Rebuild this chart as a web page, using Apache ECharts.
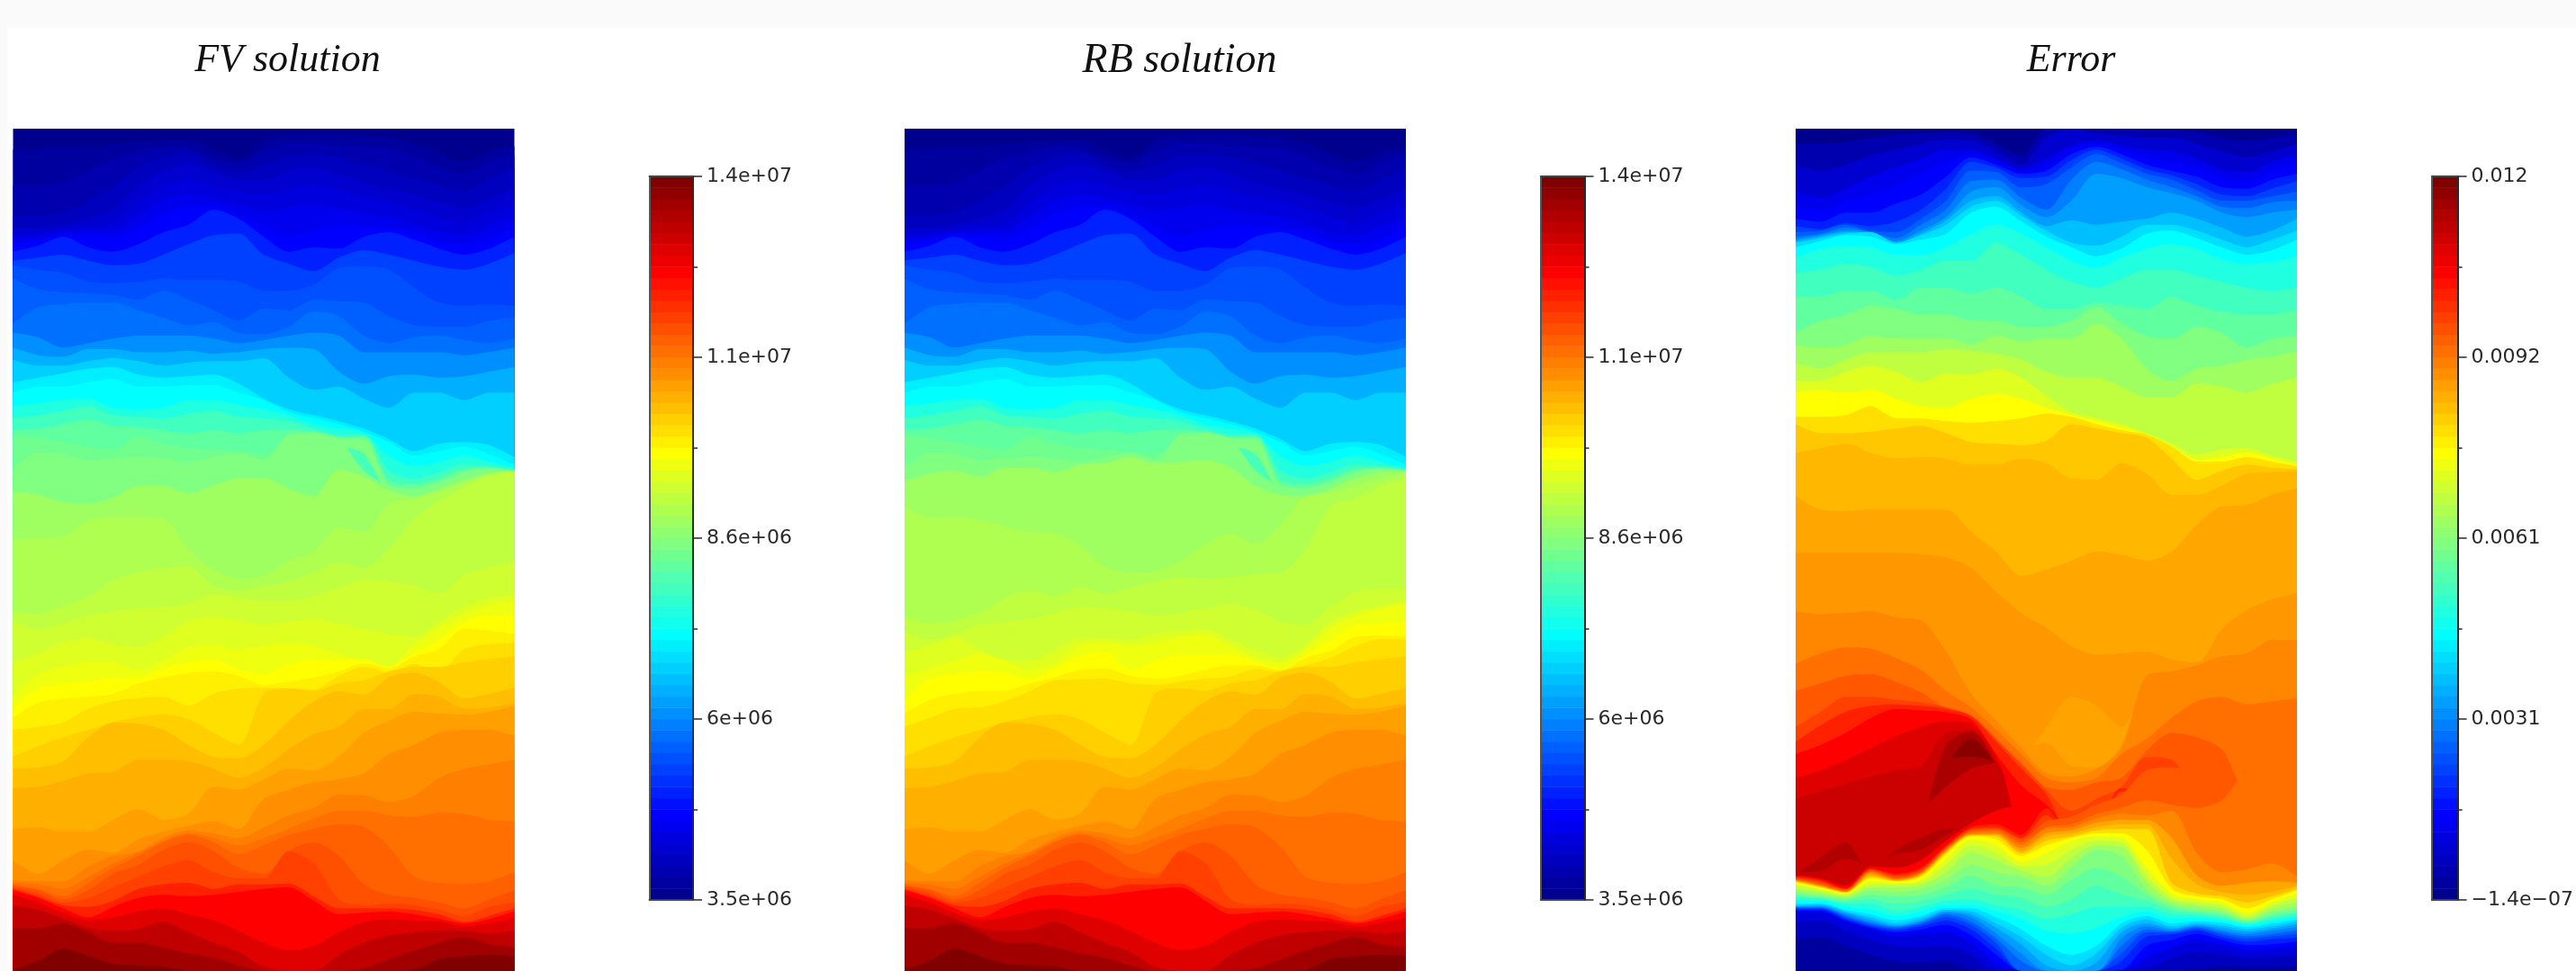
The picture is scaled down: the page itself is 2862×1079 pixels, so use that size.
<!DOCTYPE html>
<html><head><meta charset="utf-8">
<style>html,body{margin:0;padding:0;background:#fafafa;width:2862px;height:1079px;overflow:hidden}
#paper{position:absolute;left:8px;top:31px;right:0;bottom:0;background:#fff}
#chart{position:absolute;left:0;top:0;width:2862px;height:1079px}</style>
<script src="https://cdn.jsdelivr.net/npm/echarts@6/dist/echarts.min.js"></script>
</head><body><div id="paper"></div><div id="chart"></div>
<script>
// contour readings: x sample positions (% of width), depth units 0..2808 from field top
const xSamples=[0,5,10,15,20,25,30,35,40,45,50,55,60,65,70,75,80,85,90,95,100];
const midDepth=1404, fullDepth=2808;
const panelTitles=['FV solution','RB solution','Error'];
const fvTickLabels=['3.5e+06','6e+06','8.6e+06','1.1e+07','1.4e+07'];
const rbTickLabels=['3.5e+06','6e+06','8.6e+06','1.1e+07','1.4e+07'];
const errTickLabels=['\u22121.4e\u221207','0.0031','0.0061','0.0092','0.012'];
const jetStops=[[0,'#00008f'],[7,'#0000ff'],[23,'#00ffff'],[39,'#ffff00'],[55,'#ff0000'],[63,'#800000']];

const fvUpperLevels=[0,1,2,3,4,5,6,7,9,11,12,13,14,16,18,20,22,23,25,27,29,30,31,27.5,31,33,34,35];
const fvUpperDepths=[
[0,0,0,0,0,0,0,0,0,0,0,0,0,0,0,0,0,0,0,0,0],
[70,65,60,60,50,45,40,40,70,100,40,25,20,20,25,30,50,80,110,75,60],
[190,190,180,140,100,80,60,65,100,115,75,50,50,55,60,65,90,130,150,110,90],
[290,290,280,240,190,130,95,80,120,145,120,90,85,95,120,140,165,190,205,170,130],
[330,330,320,300,270,190,140,120,145,170,170,140,130,150,180,200,220,245,265,235,195],
[350,345,335,325,315,250,190,170,190,210,220,200,190,205,230,245,270,295,315,280,245],
[365,358,345,340,340,290,240,220,235,255,275,265,255,270,285,295,320,345,355,325,295],
[385,372,352,357,362,330,285,260,260,290,325,355,335,320,325,330,345,375,385,365,330],
[410,390,360,395,410,385,345,320,270,300,360,410,395,400,360,345,370,400,420,400,360],
[440,430,420,440,455,450,420,385,355,350,420,450,475,430,405,420,440,460,470,450,415],
[455,470,480,510,515,510,500,505,505,510,540,540,520,465,460,470,530,580,590,585,590],
[500,535,545,550,555,570,540,570,605,640,600,605,570,575,580,625,655,660,660,640,630],
[650,595,585,580,580,605,630,655,645,680,685,660,610,625,690,715,695,690,705,715,700],
[680,695,730,715,700,690,690,690,700,715,705,690,680,690,745,745,745,745,755,745,730],
[730,755,760,735,735,745,745,740,750,745,735,730,735,810,850,825,820,830,825,810,795],
[770,790,790,775,765,775,790,780,775,775,765,830,870,860,900,930,880,880,905,880,880],
[845,830,815,800,795,820,830,825,820,850,900,935,955,975,1000,1035,1075,1050,1045,1055,1095],
[880,860,860,845,835,860,860,855,855,880,905,945,965,985,1010,1045,1090,1075,1060,1085,1120],
[925,915,905,900,930,935,930,905,905,920,935,955,985,1000,1015,1090,1125,1110,1090,1110,1130],
[965,955,940,925,955,960,965,950,940,960,965,975,1000,1020,1020,1140,1165,1145,1120,1125,1135],
[1005,1000,985,970,990,995,1005,1015,1005,1015,1005,1005,1010,1030,1025,1170,1185,1165,1135,1130,1140],
[1020,1030,1045,1060,1070,1025,1050,1065,1070,1075,1085,1040,1010,1030,1030,1185,1195,1175,1140,1130,1140],
[1135,1080,1085,1105,1100,1095,1100,1110,1095,1080,1105,1020,1015,1035,1038,1190,1200,1180,1145,1135,1140],
[1155,1100,1105,1125,1120,1115,1120,1130,1115,1100,1125,1040,1035,1055,1085,1210,1220,1200,1165,1155,1160],
[1135,1080,1085,1105,1100,1095,1100,1110,1095,1080,1105,1020,1015,1035,1140,1190,1200,1180,1145,1135,1140],
[1210,1220,1245,1250,1230,1190,1190,1215,1190,1165,1165,1200,1225,1135,1160,1205,1225,1200,1170,1150,1140],
[1370,1365,1360,1305,1295,1295,1300,1404,1470,1500,1490,1440,1410,1330,1345,1250,1235,1210,1180,1150,1140],
[1609,1618,1590,1560,1505,1480,1464,1460,1525,1540,1525,1510,1480,1445,1465,1400,1300,1240,1195,1155,1142]];

const fvLowerLevels=[36,37,38,39,40,41,42,43,44,45,46,47,48,49,50,51,53,55,57,59,61,63];
const fvLowerDepths=[
[235,265,245,220,205,195,190,180,150,160,170,170,155,125,100,105,120,145,85,60,40],
[375,345,310,295,315,325,290,235,225,235,248,240,230,245,265,280,290,240,190,160,150],
[490,415,390,375,375,400,370,325,320,330,320,310,320,345,370,385,315,260,215,185,170],
[525,465,445,440,425,425,395,375,365,400,415,380,365,370,365,392,345,300,240,220,220],
[560,510,495,490,480,445,425,410,405,420,450,440,425,405,378,395,355,330,262,270,280],
[600,590,575,530,505,495,490,520,480,462,460,462,465,420,390,410,380,405,330,315,310],
[690,655,625,600,575,558,548,565,610,650,480,462,470,445,435,405,390,390,375,365,355],
[730,725,705,625,575,580,600,650,690,695,650,570,505,472,483,425,410,440,495,480,460],
[795,790,770,745,740,700,700,705,730,760,725,665,615,590,530,530,480,490,530,525,510],
[930,925,940,940,900,865,900,880,790,800,765,730,735,690,610,570,540,545,550,540,520],
[1035,1080,1035,1000,1010,965,940,920,905,930,830,800,775,765,745,680,650,610,600,600,620],
[1100,1105,1105,1055,1020,1005,960,935,945,960,925,885,860,815,818,840,820,760,730,715,700],
[1110,1115,1130,1090,1045,1010,970,945,960,985,960,930,895,870,870,885,890,875,880,900,905],
[1115,1130,1155,1110,1060,1020,975,950,975,1015,985,950,930,915,925,990,1090,1110,1115,1105,1075],
[1120,1135,1165,1135,1080,1050,1000,975,1005,1060,1080,1005,975,1020,1115,1150,1160,1175,1195,1165,1135],
[1125,1145,1175,1160,1125,1090,1055,1035,1075,1095,1095,1005,1045,1165,1185,1178,1185,1200,1220,1190,1175],
[1130,1155,1185,1190,1170,1130,1115,1110,1130,1115,1115,1112,1155,1195,1195,1195,1200,1215,1240,1220,1195],
[1135,1160,1195,1225,1190,1160,1150,1155,1150,1140,1130,1125,1170,1215,1210,1205,1215,1230,1245,1230,1205],
[1150,1175,1210,1235,1225,1205,1195,1215,1235,1270,1310,1335,1320,1275,1240,1232,1235,1240,1255,1245,1225],
[1185,1200,1230,1260,1270,1265,1240,1275,1310,1340,1390,1404,1404,1350,1310,1285,1275,1270,1270,1280,1270],
[1260,1260,1245,1275,1310,1310,1325,1345,1360,1385,1404,1404,1404,1404,1395,1365,1335,1310,1290,1315,1325],
[1400,1370,1330,1355,1380,1385,1390,1404,1404,1404,1404,1404,1404,1404,1404,1404,1400,1365,1355,1350,1355]];

// RB differs from FV only in the mid-range contours read separately below
const rbUpperLevels=fvUpperLevels;
const rbUpperDepths=fvUpperDepths.slice(0,-3).concat([
[1175,1150,1140,1160,1130,1130,1145,1120,1115,1095,1115,1110,1105,1130,1190,1220,1225,1200,1165,1145,1140],
[1260,1295,1295,1305,1325,1345,1350,1390,1460,1480,1475,1440,1385,1350,1385,1320,1225,1215,1190,1170,1150],
[1629,1650,1640,1615,1565,1540,1560,1530,1550,1530,1510,1495,1500,1495,1485,1480,1400,1260,1230,1190,1165]]);
const rbLowerLevels=fvLowerLevels;
const rbLowerDepths=[
[270,300,280,250,240,230,210,190,195,205,220,210,195,180,200,240,250,190,140,130,130],
[340,320,290,335,365,370,335,295,295,300,280,270,265,300,335,360,315,240,205,185,170],
[420,395,370,345,370,400,375,320,310,320,310,290,285,320,360,375,330,260,220,195,180],
[500,430,415,405,410,430,395,355,340,400,370,350,350,350,375,395,350,300,250,245,240],
[545,500,480,470,470,445,425,400,395,420,430,420,400,385,385,400,360,335,290,285,290],
[590,560,530,525,505,470,435,432,430,445,450,440,430,422,398,405,385,360,320,298,300]
].concat(fvLowerDepths.slice(6));

const errUpperLevels=[0,2,4,6,7,9,11,13,15,17,19,21,23,25,27,29,31,33,35,37,39,41,42.5,43.5,44.5];
const errUpperDepths=[
[0,0,0,0,0,0,0,0,0,0,0,0,0,0,0,0,0,0,0,0,0],
[50,50,45,30,20,15,10,15,50,90,0,0,5,0,5,5,10,30,40,30,15],
[120,140,120,90,70,50,35,40,75,120,30,0,15,25,30,30,50,75,95,75,50],
[210,230,200,160,130,100,70,70,100,135,100,55,40,55,70,75,100,135,145,110,85],
[260,270,240,220,190,150,110,85,110,140,125,70,50,70,95,110,130,165,175,140,110],
[300,310,280,280,250,220,160,95,120,150,140,85,60,85,120,140,160,195,200,170,150],
[325,335,315,325,310,270,200,110,130,165,160,105,70,100,135,155,185,220,225,200,175],
[345,340,320,340,345,300,240,140,145,195,185,130,85,115,150,170,205,240,240,225,210],
[360,350,330,345,365,320,270,175,170,230,270,170,110,135,170,195,225,260,265,245,240],
[370,355,340,345,375,340,295,210,195,255,295,240,150,165,195,215,240,280,295,280,270],
[375,360,345,345,380,350,305,240,225,280,325,305,320,310,300,280,300,330,360,340,300],
[380,365,350,345,380,355,320,260,240,290,340,380,390,360,320,320,340,370,395,370,340],
[395,375,355,360,385,370,350,280,260,310,360,395,425,400,350,340,365,395,420,405,370],
[430,400,390,395,420,420,395,350,320,350,395,440,465,430,400,385,400,435,450,445,425],
[480,470,450,460,490,470,440,440,380,420,470,510,530,500,470,470,490,510,530,540,530],
[560,560,540,540,570,530,530,550,530,560,600,600,580,590,600,560,590,610,620,620,600],
[680,640,620,590,600,620,620,640,640,660,660,640,595,650,690,700,660,680,730,700,690],
[720,730,720,690,700,700,700,720,690,710,700,700,650,700,800,840,800,790,770,760,740],
[780,800,770,745,745,745,735,740,750,770,810,830,830,860,895,895,850,860,880,850,830],
[840,840,810,790,810,845,815,820,800,830,890,945,965,985,1015,1050,1085,1070,1065,1090,1110],
[880,870,880,870,900,925,930,900,885,900,930,955,975,995,1020,1060,1105,1095,1080,1100,1120],
[960,960,955,925,965,965,975,980,975,965,950,960,985,1005,1020,1060,1110,1110,1095,1110,1125],
[985,1015,1015,1010,1000,990,1015,1045,1050,1055,1040,985,1000,1015,1030,1100,1170,1140,1120,1130,1135],
[1080,1065,1050,1080,1098,1095,1100,1120,1120,1100,1115,1165,1170,1115,1150,1220,1220,1190,1150,1145,1140],
[1225,1270,1275,1270,1270,1270,1270,1345,1410,1490,1470,1440,1410,1420,1440,1410,1320,1260,1255,1220,1200]];

const errLowerLevels=[45.5,44.8,45.5,46.5,48,49.5,51,53,55,57,58.3,60.3,62.5,60.3,58.3,60,58.3,
  55,53,51,49.5,48,46.5,44.5,43,41,39,37,35,33,31,29,27,25,23,21,19,17,15,13,11,9,7,5,3,1];
const errLowerDepths=[
[10,10,10,10,10,15,25,60,140,210,260,320,350,345,340,365,375,265,200,165,145],
[235,245,240,235,255,265,370,510,600,690,590,490,520,590,450,435,415,385,375,330,330],
[205,215,210,205,225,235,340,480,570,660,645,720,725,650,420,405,385,355,345,300,300],
[205,215,210,205,225,235,340,480,570,660,745,755,730,660,420,405,385,355,345,300,300],
[380,345,325,330,360,400,470,525,600,680,760,775,760,680,630,560,505,490,515,505,495],
[470,445,420,415,440,475,530,570,640,710,790,800,775,760,670,610,625,665,800,800,800],
[590,540,490,490,500,508,525,552,630,715,800,870,830,790,690,700,810,830,800,800,800],
[640,585,540,520,515,520,530,555,640,730,815,950,930,795,800,810,810,830,800,800,800],
[680,650,610,560,530,535,542,565,680,785,850,950,930,900,800,810,810,830,800,800,800],
[760,735,700,660,620,590,570,580,690,920,920,950,930,900,800,810,810,830,800,800,800],
[830,805,780,755,735,720,610,600,705,920,920,950,930,900,800,810,810,830,800,800,800],
[950,950,950,950,950,900,650,605,720,920,920,950,930,900,800,810,810,830,800,800,800],
[950,950,950,950,950,900,720,630,720,920,920,950,930,900,800,810,810,830,800,800,800],
[950,950,950,950,950,900,700,690,715,920,920,950,930,900,800,810,810,830,800,800,800],
[900,900,900,900,870,860,790,730,710,920,920,950,930,900,800,810,810,830,800,800,800],
[1083,1025,975,1080,1000,960,930,930,890,920,920,950,930,900,800,810,810,830,800,800,800],
[1075,1070,1030,1050,1015,1000,950,905,860,920,920,950,930,900,800,810,810,830,800,800,800],
[1085,1095,1120,1055,1060,1035,970,912,870,852,855,950,930,900,800,810,810,830,800,800,800],
[1088,1100,1128,1062,1080,1060,985,925,915,950,862,950,930,900,800,810,810,830,800,800,800],
[1092,1105,1130,1065,1085,1065,990,930,925,960,885,950,930,805,800,810,810,830,800,800,800],
[1095,1110,1132,1068,1090,1070,993,935,930,965,905,890,850,815,735,725,740,760,800,800,800],
[1098,1115,1135,1072,1095,1075,997,940,935,975,925,915,880,860,835,850,860,835,750,750,750],
[1100,1118,1138,1075,1098,1078,1000,945,942,985,930,925,895,880,885,870,1010,1075,1065,1045,1090],
[1102,1120,1140,1080,1100,1080,1003,948,947,995,945,935,910,900,900,960,1085,1120,1110,1105,1110],
[1104,1122,1141,1085,1102,1083,1007,950,950,1005,955,945,925,915,915,1030,1115,1140,1150,1140,1120],
[1106,1124,1142,1090,1104,1086,1010,952,955,1012,970,955,935,930,930,1110,1145,1155,1175,1155,1130],
[1108,1126,1143,1095,1105,1090,1015,955,965,1020,985,960,945,945,1000,1130,1155,1165,1195,1165,1135],
[1112,1130,1146,1105,1110,1100,1030,965,985,1040,1010,970,955,960,1060,1145,1165,1175,1210,1175,1145],
[1120,1136,1150,1115,1115,1108,1050,985,1010,1055,1050,1000,970,975,1085,1160,1175,1185,1220,1185,1160],
[1130,1142,1155,1125,1125,1118,1075,1010,1035,1070,1090,1030,985,990,1105,1170,1185,1195,1228,1195,1175],
[1140,1150,1160,1135,1140,1130,1100,1050,1075,1090,1120,1060,1000,1020,1130,1180,1195,1205,1234,1205,1190],
[1148,1156,1165,1150,1155,1150,1125,1085,1120,1125,1150,1100,1060,1090,1150,1190,1203,1213,1238,1215,1200],
[1155,1160,1172,1165,1180,1170,1150,1130,1150,1160,1190,1165,1120,1150,1170,1200,1210,1220,1242,1223,1210],
[1162,1165,1180,1180,1205,1190,1170,1165,1185,1200,1230,1215,1190,1190,1190,1215,1218,1228,1246,1230,1218],
[1170,1170,1190,1200,1220,1205,1185,1185,1205,1230,1270,1280,1260,1225,1205,1230,1228,1235,1250,1238,1225],
[1180,1178,1200,1215,1235,1220,1195,1195,1225,1265,1320,1350,1320,1245,1220,1245,1238,1243,1258,1246,1232],
[1185,1182,1205,1225,1245,1228,1200,1205,1245,1290,1350,1385,1345,1260,1232,1255,1245,1252,1265,1255,1240],
[1188,1186,1210,1232,1252,1235,1205,1215,1260,1315,1385,1404,1375,1275,1245,1262,1250,1260,1272,1262,1248],
[1190,1190,1215,1240,1255,1240,1210,1225,1280,1345,1404,1404,1404,1295,1255,1268,1254,1268,1280,1270,1258],
[1192,1192,1220,1245,1258,1245,1215,1240,1295,1370,1404,1404,1404,1320,1265,1272,1258,1275,1288,1280,1268],
[1195,1195,1225,1250,1262,1248,1225,1250,1310,1404,1404,1404,1404,1345,1275,1276,1262,1282,1296,1288,1280],
[1198,1198,1230,1255,1268,1255,1235,1265,1330,1404,1404,1404,1404,1370,1290,1282,1268,1290,1305,1298,1292],
[1202,1202,1235,1260,1275,1265,1250,1285,1350,1404,1404,1404,1404,1400,1320,1300,1280,1300,1318,1315,1305],
[1205,1208,1240,1265,1285,1280,1275,1310,1380,1404,1404,1404,1404,1404,1360,1325,1300,1315,1332,1330,1320],
[1240,1235,1270,1300,1320,1325,1320,1350,1404,1404,1404,1404,1404,1404,1395,1360,1340,1345,1360,1355,1350],
[1300,1290,1320,1350,1370,1375,1370,1400,1404,1404,1404,1404,1404,1404,1404,1404,1400,1385,1390,1390,1385]];

function jet(level){
  for(let k=1;k<jetStops.length;k++){
    if(level<=jetStops[k][0]){
      const a=jetStops[k-1],b=jetStops[k];
      return echarts.color.lerp((level-a[0])/(b[0]-a[0]),[a[1],b[1]]);
    }
  }
  return jetStops[jetStops.length-1][1];
}
const bandIndex=Array.from({length:64},(_,i)=>i);
const bandColors=bandIndex.map(jet);

const panelOffsets=[0,990.5,1980.5];
const titleCenters=[314.5,1305.5,2296];
const grids=[],xAxes=[],yAxes=[],series=[],titles=[];
const bars=[];
const fields=[
 [fvUpperLevels,fvUpperDepths,fvLowerLevels,fvLowerDepths,fvTickLabels],
 [rbUpperLevels,rbUpperDepths,rbLowerLevels,rbLowerDepths,rbTickLabels],
 [errUpperLevels,errUpperDepths,errLowerLevels,errLowerDepths,errTickLabels]];

function addContour(idx,level,depths,offset){
  series.push({type:'line',xAxisIndex:idx,yAxisIndex:idx,
    data:xSamples.map((x,j)=>[x,Math.min(depths[j]+offset,fullDepth)]),
    symbol:'none',showSymbol:false,smooth:0.3,silent:true,animation:false,
    lineStyle:{width:0},areaStyle:{color:jet(level),opacity:1,origin:'end'}});
}
fields.forEach((f,p)=>{
  const off=panelOffsets[p];
  grids.push({left:14.5+off,top:143,width:557,height:936,show:false});
  xAxes.push({gridIndex:p,type:'value',min:0,max:100,show:false});
  yAxes.push({gridIndex:p,type:'value',min:0,max:fullDepth,inverse:true,show:false});
  f[0].forEach((lv,k)=>addContour(p,lv,f[1][k],0));
  f[2].forEach((lv,k)=>addContour(p,lv,f[3][k],midDepth));
});
const lineCol='#2a2a2a';
fields.forEach((f,p)=>{
  const off=panelOffsets[p], g=grids.length;
  grids.push({left:721.5+off,top:196,width:48.5,height:804,show:false});
  const xi=xAxes.length, yi=yAxes.length;
  xAxes.push({gridIndex:g,type:'category',data:['bar'],position:'bottom',z:5,
    axisLine:{show:true,lineStyle:{color:'#444',width:2}},axisTick:{show:false},axisLabel:{show:false},splitLine:{show:false}});
  xAxes.push({gridIndex:g,type:'value',min:0,max:1,position:'top',z:5,
    axisLine:{show:true,lineStyle:{color:'#444',width:2}},axisTick:{show:false},axisLabel:{show:false},splitLine:{show:false}});
  yAxes.push({gridIndex:g,type:'category',data:bandIndex,position:'left',z:5,
    axisLine:{show:true,lineStyle:{color:'#555',width:2}},axisTick:{show:false},axisLabel:{show:false},splitLine:{show:false}});
  yAxes.push({gridIndex:g,type:'value',min:0,max:4,interval:1,position:'right',z:5,
    axisLine:{show:true,lineStyle:{color:lineCol,width:2}},
    axisTick:{show:true,length:10,lineStyle:{color:lineCol,width:1.5}},
    minorTick:{show:true,splitNumber:2,length:5,lineStyle:{color:lineCol,width:1.5}},
    splitLine:{show:false},minorSplitLine:{show:false},
    axisLabel:{show:true,margin:15,color:'#2a2a2a',fontFamily:'DejaVu Sans',fontSize:22,padding:[4,0,0,0],
      showMinLabel:true,showMaxLabel:true,hideOverlap:false,formatter:(v)=>f[4][Math.round(v)]}});
  bars.push(series.length);
  series.push({type:'heatmap',xAxisIndex:xi,yAxisIndex:yi,data:bandIndex.map(i=>[0,i,i]),silent:true,animation:false,progressive:0,
    itemStyle:{borderWidth:0}});
  titles.push({text:panelTitles[p],left:titleCenters[p],top:40,textAlign:'center',
    textStyle:{fontFamily:'Liberation Serif',fontStyle:'italic',fontWeight:'normal',fontSize:p===1?46:44,color:'#111'}});
});
const chart=echarts.init(document.getElementById('chart'),null,{renderer:'canvas',width:2862,height:1079});
chart.setOption({animation:false,backgroundColor:'transparent',title:titles,grid:grids,xAxis:xAxes,yAxis:yAxes,
  visualMap:{type:'continuous',show:false,min:0,max:63,dimension:2,seriesIndex:bars,inRange:{color:bandColors}},
  series:series});
</script></body></html>
